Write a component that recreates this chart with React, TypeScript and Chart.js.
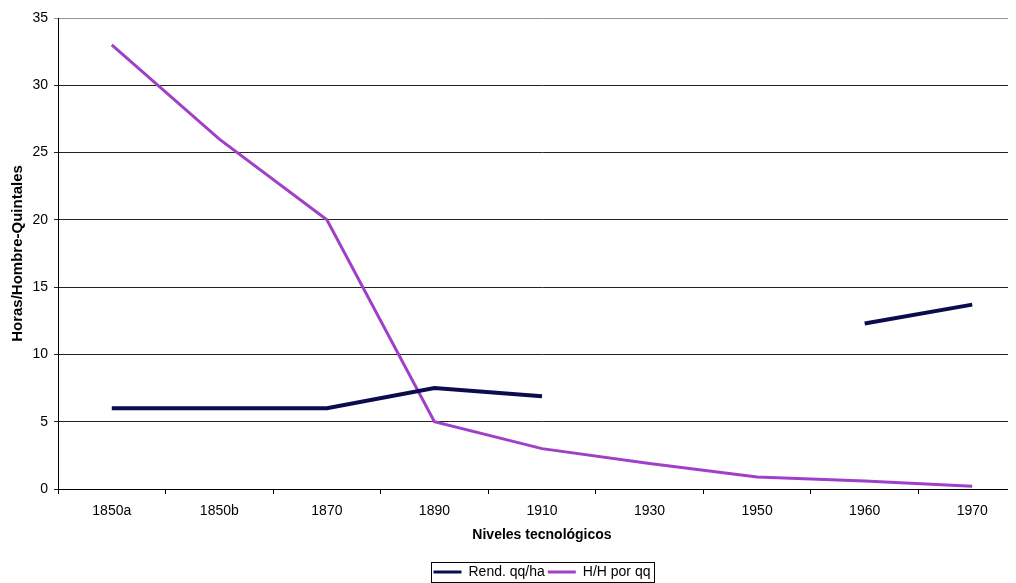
import React, { useEffect, useRef } from "react";
import { Chart, registerables } from "chart.js";

Chart.register(...registerables);

const categories = ["1850a", "1850b", "1870", "1890", "1910", "1930", "1950", "1960", "1970"];
const rendQqHa: (number | null)[] = [6, 6, 6, 7.5, 6.9, null, null, 12.3, 13.7];
const hhPorQq: number[] = [33, 26, 20, 5, 3, 1.9, 0.9, 0.6, 0.2];
const seriesLabels = ["Rend. qq/ha", "H/H por qq"];
const yMin = 0;
const yMax = 35;
const yStep = 5;

const FONT = "'Liberation Sans', Arial, sans-serif";

const legendBorder = {
  id: "legendBorder",
  afterLayout(chart: any) {
    const lg = chart.legend;
    if (lg) {
      lg.top += 6;
      lg.bottom += 6;
      lg.left += 25;
      lg.right += 25;
    }
  },
  afterDraw(chart: any) {
    const lg = chart.legend;
    const hb = lg && lg.legendHitBoxes;
    if (!hb || !hb.length) return;
    const l = Math.min(...hb.map((h: any) => h.left)) - 3;
    const r = Math.max(...hb.map((h: any) => h.left + h.width)) + 3;
    const t = Math.min(...hb.map((h: any) => h.top)) - 3;
    const b = Math.max(...hb.map((h: any) => h.top + h.height)) + 3;
    const ctx = chart.ctx;
    ctx.save();
    ctx.strokeStyle = "#000";
    ctx.lineWidth = 1;
    ctx.strokeRect(Math.round(l) + 0.5, Math.round(t) + 0.5, Math.round(r - l), Math.round(b - t));
    ctx.restore();
  },
};

export default function App() {
  const ref = useRef<HTMLCanvasElement | null>(null);

  useEffect(() => {
    if (!ref.current) return;
    const chart = new Chart(ref.current, {
      type: "line",
      data: {
        labels: categories,
        datasets: [
          {
            label: seriesLabels[0],
            data: rendQqHa,
            borderColor: "#0b0b4d",
            backgroundColor: "#0b0b4d",
            borderWidth: 4,
            pointRadius: 0,
            tension: 0,
            spanGaps: false,
          },
          {
            label: seriesLabels[1],
            data: hhPorQq,
            borderColor: "#a040c8",
            backgroundColor: "#a040c8",
            borderWidth: 3,
            pointRadius: 0,
            tension: 0,
          },
        ],
      },
      options: {
        animation: false,
        responsive: true,
        maintainAspectRatio: false,
        layout: { padding: { top: 10, left: 0, right: 50, bottom: 0 } },
        plugins: {
          tooltip: { enabled: false },
          legend: {
            position: "bottom",
            labels: {
              color: "#000",
              font: { family: FONT, size: 14 },
              boxWidth: 28,
              boxHeight: 3,
              padding: 3,
              generateLabels: (c: any) =>
                (Chart.defaults.plugins.legend.labels as any)
                  .generateLabels(c)
                  .map((it: any) => ({ ...it, lineWidth: 0, fillStyle: it.strokeStyle })),
            },
          },
        },
        scales: {
          x: {
            offset: true,
            grid: {
              display: true,
              offset: true,
              drawOnChartArea: false,
              drawTicks: true,
              tickLength: 5,
              color: "#000",
            },
            border: { display: true, color: "#000", width: 1 },
            ticks: {
              color: "#000",
              font: { family: FONT, size: 14 },
              padding: 9,
              maxRotation: 0,
              autoSkip: false,
            },
            title: {
              display: true,
              text: "Niveles tecnológicos",
              color: "#000",
              font: { family: FONT, size: 14, weight: "bold" },
              padding: { top: 4, bottom: 12 },
            },
            afterFit: (scale: any) => {
              const lh = scale.chart.legend ? scale.chart.legend.height : 30;
              scale.height = scale.chart.height - 481 - lh;
            },
          },
          y: {
            min: yMin,
            max: yMax,
            ticks: {
              stepSize: yStep,
              color: "#000",
              font: { family: FONT, size: 14 },
              padding: 6,
            },
            grid: {
              color: (ctx: any) => (ctx.tick && ctx.tick.value === yMax ? "#8a96a0" : "#222"),
              lineWidth: 1,
              drawTicks: true,
              tickLength: 4,
            },
            border: { display: true, color: "#000", width: 1 },
            title: {
              display: true,
              text: "Horas/Hombre-Quintales",
              color: "#000",
              font: { family: FONT, size: 15, weight: "bold" },
              padding: { top: 1, bottom: 2 },
            },
            afterFit: (scale: any) => {
              scale.width = 50;
              scale.paddingTop = 0;
              scale.paddingBottom = 0;
            },
          },
        },
      },
      plugins: [legendBorder],
    });
    return () => chart.destroy();
  }, []);

  return (
    <div style={{ width: 1008, height: 575, overflow: "hidden", position: "relative" }}>
      <div style={{ width: 1068, height: 575, position: "relative" }}>
        <canvas ref={ref} />
      </div>
    </div>
  );
}
